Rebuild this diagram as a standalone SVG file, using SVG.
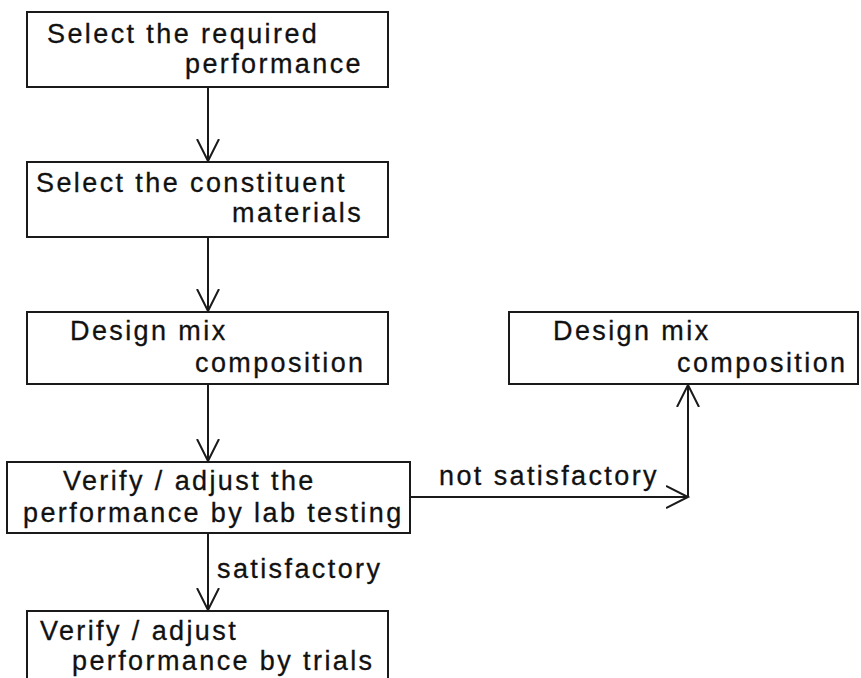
<svg xmlns="http://www.w3.org/2000/svg" width="861" height="678" viewBox="0 0 861 678">
<defs>
<style>
.box{fill:#fff;stroke:#1a1a1a;stroke-width:2}
.t{font-family:"Liberation Sans",Arial,sans-serif;font-size:27px;letter-spacing:2.4px;fill:#111;stroke:#111;stroke-width:0.3}
.ln{fill:none;stroke:#1a1a1a;stroke-width:2}
</style>
<marker id="ah" markerUnits="userSpaceOnUse" markerWidth="30" markerHeight="30" refX="22" refY="11" orient="auto" viewBox="0 0 30 22">
<path d="M0,0 L22,11 L0,22" fill="none" stroke="#1a1a1a" stroke-width="2"/>
</marker>
</defs>
<rect width="861" height="678" fill="#fff"/>
<g id="n1"><rect class="box" x="27" y="12" width="361" height="75"/>
<text class="t" x="47" y="43">Select the required</text>
<text class="t" x="185" y="73">performance</text></g>
<g id="n2"><rect class="box" x="27" y="162" width="361" height="75"/>
<text class="t" x="36" y="192">Select the constituent</text>
<text class="t" x="232" y="222">materials</text></g>
<g id="n3"><rect class="box" x="27" y="312" width="361" height="72"/>
<text class="t" x="70" y="340">Design mix</text>
<text class="t" x="195" y="372">composition</text></g>
<g id="n4"><rect class="box" x="7" y="462" width="403" height="71"/>
<text class="t" x="63" y="490">Verify / adjust the</text>
<text class="t" x="23" y="522">performance by lab testing</text></g>
<g id="n5"><rect class="box" x="27" y="611" width="361" height="80"/>
<text class="t" x="40" y="640">Verify / adjust</text>
<text class="t" x="72" y="670">performance by trials</text></g>
<g id="n6"><rect class="box" x="509" y="312" width="349" height="72"/>
<text class="t" x="553" y="340">Design mix</text>
<text class="t" x="677" y="372">composition</text></g>
<g id="connectors">
<line class="ln" x1="208" y1="87" x2="208" y2="161" marker-end="url(#ah)"/>
<line class="ln" x1="208" y1="237" x2="208" y2="311" marker-end="url(#ah)"/>
<line class="ln" x1="208" y1="384" x2="208" y2="461" marker-end="url(#ah)"/>
<line class="ln" x1="208" y1="533" x2="208" y2="610" marker-end="url(#ah)"/>
<line class="ln" x1="410" y1="497" x2="688" y2="497" marker-end="url(#ah)"/>
<line class="ln" x1="688" y1="497" x2="688" y2="385" marker-end="url(#ah)"/>
<text class="t" x="439" y="485">not satisfactory</text>
<text class="t" x="217" y="578">satisfactory</text>
</g>
</svg>
